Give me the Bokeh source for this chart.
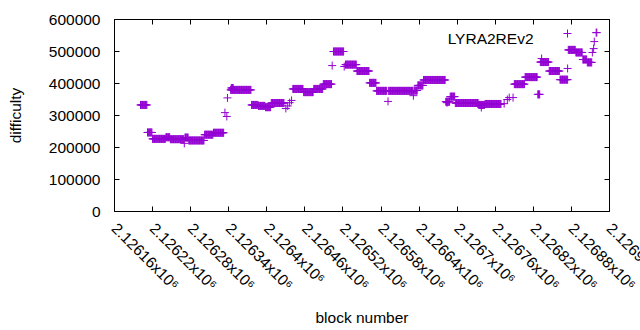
import math
from bokeh.plotting import figure
from bokeh.models import (LinearAxis, FixedTicker, CustomJSTickFormatter, Legend,
                          LegendItem, Range1d, ColumnDataSource, Label)
from bokeh.embed import file_html
from bokeh.resources import INLINE

series_name = "LYRA2REv2"
x_title = "block number"
y_title = "difficulty"

# difficulty plateaus: first block, last block, difficulty
seg_first = [2126201, 2126212, 2126220, 2126241, 2126248, 2126271, 2126277, 2126302,
             2126316, 2126343, 2126344, 2126376, 2126387, 2126398, 2126407, 2126441,
             2126458, 2126474, 2126489, 2126505, 2126524, 2126542, 2126562, 2126573,
             2126592, 2126632, 2126638, 2126647, 2126682, 2126689, 2126697, 2126734,
             2126744, 2126790, 2126807, 2126827, 2126831, 2126845, 2126862, 2126875,
             2126887, 2126898, 2126905]
seg_last = [2126211, 2126219, 2126240, 2126247, 2126269, 2126276, 2126301, 2126315,
            2126332, 2126375, 2126347, 2126386, 2126397, 2126406, 2126427, 2126457,
            2126473, 2126488, 2126502, 2126521, 2126541, 2126561, 2126572, 2126589,
            2126630, 2126637, 2126646, 2126681, 2126688, 2126696, 2126733, 2126743,
            2126769, 2126806, 2126826, 2126830, 2126844, 2126861, 2126874, 2126886,
            2126897, 2126904, 2126912]
seg_difficulty = [333000, 247000, 227000, 232000, 226000, 231000, 222000, 240000,
                  246000, 380000, 386000, 333000, 330000, 326000, 339000, 383000,
                  373000, 383000, 398000, 500000, 459000, 439000, 402000, 377000,
                  377000, 378000, 394000, 411000, 343000, 359000, 339000, 333000,
                  336000, 398000, 420000, 366000, 467000, 439000, 412000, 505000,
                  497000, 475000, 466000]

# isolated blocks
single_block = [2126270, 2126334, 2126337, 2126338, 2126430, 2126433, 2126436, 2126439,
                2126503, 2126522, 2126591, 2126631, 2126684, 2126738, 2126774, 2126779,
                2126782, 2126788, 2126833, 2126874, 2126913, 2126915, 2126916, 2126919,
                2126920]
single_difficulty = [213000, 309000, 297000, 355000, 322000, 330000, 340000, 347000,
                     456000, 453000, 344000, 362000, 340000, 325000, 337000, 350000,
                     356000, 356000, 478000, 447000, 497000, 509000, 531000, 559000,
                     559000]

x_ticks = [2126160, 2126220, 2126280, 2126340, 2126400, 2126460, 2126520, 2126580,
           2126640, 2126700, 2126760, 2126820, 2126880, 2126940]
x_tick_labels = ["2.12616x10⁶", "2.12622x10⁶", "2.12628x10⁶", "2.12634x10⁶",
                 "2.1264x10⁶", "2.12646x10⁶", "2.12652x10⁶", "2.12658x10⁶",
                 "2.12664x10⁶", "2.1267x10⁶", "2.12676x10⁶", "2.12682x10⁶",
                 "2.12688x10⁶", "2.12694x10⁶"]
y_ticks = [0, 100000, 200000, 300000, 400000, 500000, 600000]

blocks, diffs = [], []
for a, b, d in zip(seg_first, seg_last, seg_difficulty):
    for blk in range(a, b + 1):
        blocks.append(blk)
        diffs.append(d)
blocks += single_block
diffs += single_difficulty
src = ColumnDataSource(dict(block=blocks, difficulty=diffs))

FONT = "Liberation Sans"
FS = "15.5px"
COLOR = "#9400D3"

# the right border is wide enough that the last rotated tick label is drawn in
# place (as in the reference, where the window edge cuts it) instead of being
# pushed back inside the canvas on top of its neighbour
p = figure(frame_width=495, frame_height=192, output_backend="svg", toolbar_location=None,
           x_range=Range1d(x_ticks[0], x_ticks[-1]), y_range=Range1d(y_ticks[0], y_ticks[-1]),
           min_border_left=114, min_border_right=95, min_border_top=19, min_border_bottom=119)
p.grid.visible = False
p.outline_line_color = "black"
p.background_fill_color = "white"
p.border_fill_color = "white"

r = p.scatter("block", "difficulty", source=src, marker="cross", size=8,
              line_color=COLOR, line_width=1)

def style(ax):
    ax.major_tick_in = 5
    ax.major_tick_out = 0
    ax.minor_tick_line_color = None
    ax.axis_line_color = "black"
    ax.major_tick_line_color = "black"
    ax.major_label_text_font = FONT
    ax.major_label_text_font_size = FS
    ax.major_label_text_color = "black"
    ax.axis_label_text_font = FONT
    ax.axis_label_text_font_size = FS
    ax.axis_label_text_font_style = "normal"
    ax.axis_label_text_color = "black"

xa = p.xaxis[0]
style(xa)
xa.ticker = FixedTicker(ticks=x_ticks)
xa.major_label_overrides = dict(zip(x_ticks, x_tick_labels))
xa.major_label_orientation = -math.pi / 4
xa.major_label_standoff = 14
xa.axis_label = x_title
xa.axis_label_standoff = 7

ya = p.yaxis[0]
style(ya)
ya.ticker = FixedTicker(ticks=y_ticks)
ya.formatter = CustomJSTickFormatter(code="return tick.toFixed(0);")
ya.major_label_standoff = 14
ya.axis_label = y_title
ya.axis_label_standoff = 22

empty = CustomJSTickFormatter(code="return '';")
ra = LinearAxis(ticker=FixedTicker(ticks=y_ticks), formatter=empty)
style(ra)
ra.major_label_standoff = 0
p.add_layout(ra, "right")
ta = LinearAxis(ticker=FixedTicker(ticks=x_ticks), formatter=empty)
style(ta)
ta.major_label_standoff = 0
p.add_layout(ta, "above")

# key: title text followed by the point sample (gnuplot style)
p.add_layout(Label(x=419, y=173, x_units="screen", y_units="screen", text=series_name,
                   text_align="right", text_baseline="alphabetic", text_font=FONT,
                   text_font_size=FS, text_color="black"))
legend = Legend(items=[LegendItem(label=" ", renderers=[r])],
                location=(443, 168), padding=0, margin=0, label_standoff=0,
                glyph_width=20, glyph_height=20, label_height=20, label_width=0,
                background_fill_alpha=0, border_line_color=None,
                label_text_font=FONT, label_text_font_size=FS)
p.add_layout(legend)

open("out.html", "w").write(file_html(p, INLINE))
